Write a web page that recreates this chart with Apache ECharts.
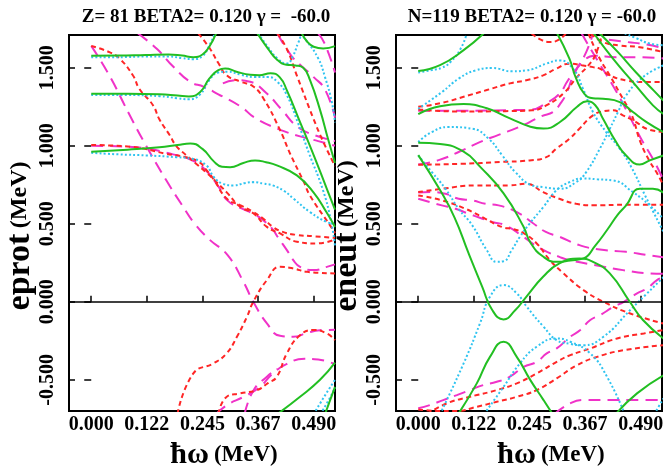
<!DOCTYPE html>
<html><head><meta charset="utf-8">
<script src="https://cdn.jsdelivr.net/npm/echarts@6/dist/echarts.min.js"></script>
<style>html,body{margin:0;padding:0;background:#fff}#c{width:665px;height:468px}</style>
</head><body><div id="c"></div>
<script>
// ---------- tick labels ----------
const xTickVals = [0, 0.1225, 0.245, 0.3675, 0.49];
const xTickLabels = ['0.000', '0.122', '0.245', '0.367', '0.490'];
const yTickVals = [-0.5, 0, 0.5, 1.0, 1.5];
const yTickLabels = ['-0.500', '0.000', '0.500', '1.000', '1.500'];
const titles = ['Z= 81 BETA2= 0.120 \u03b3 =  -60.0', 'N=119 BETA2= 0.120 \u03b3 = -60.0'];
const yNames = ['eprot', 'eneut'];

// ---------- proton routhians (left) ----------
const pG1 = [[0,1.577],[0.06,1.578],[0.12,1.582],[0.17,1.585],[0.2,1.578],[0.225,1.568],[0.245,1.585],[0.26,1.635],[0.275,1.72]];
const pG2 = [[0,1.333],[0.08,1.333],[0.15,1.33],[0.19,1.322],[0.215,1.316],[0.24,1.345],[0.26,1.43],[0.28,1.485],[0.295,1.495],[0.32,1.475],[0.35,1.455],[0.37,1.452],[0.395,1.465],[0.415,1.44],[0.431,1.355],[0.46,1.152],[0.49,0.94],[0.519,0.724],[0.537,0.59]];
const pG3 = [[0.366,1.72],[0.39,1.62],[0.41,1.55],[0.43,1.52],[0.45,1.515],[0.467,1.5],[0.482,1.42],[0.504,1.23],[0.522,1.04],[0.537,0.89]];
const pG4 = [[0,0.962],[0.08,0.975],[0.15,0.99],[0.19,1.005],[0.218,1.015],[0.245,0.98],[0.27,0.9],[0.288,0.866],[0.306,0.863],[0.335,0.89],[0.361,0.906],[0.385,0.895],[0.409,0.874],[0.453,0.81],[0.49,0.7],[0.518,0.575],[0.537,0.48]];
const pG5 = [[0.464,1.72],[0.475,1.67],[0.49,1.635],[0.511,1.624],[0.537,1.639]];
const pG6 = [[0.41,-0.72],[0.46,-0.609],[0.504,-0.5],[0.537,-0.39]];
const pG7 = [[0.515,-0.72],[0.537,-0.545]];

const pC1 = [[0,1.568],[0.06,1.568],[0.12,1.572],[0.17,1.572],[0.2,1.562],[0.225,1.555],[0.245,1.575],[0.258,1.63],[0.272,1.72]];
const pC2 = [[0,1.325],[0.08,1.325],[0.15,1.318],[0.19,1.305],[0.215,1.298],[0.24,1.33],[0.26,1.42],[0.28,1.47],[0.3,1.475],[0.33,1.455],[0.36,1.44],[0.39,1.44],[0.41,1.41],[0.43,1.33],[0.455,1.15],[0.48,0.95],[0.51,0.72],[0.528,0.52],[0.537,0.36]];
const pC3 = [[0.368,1.72],[0.39,1.63],[0.41,1.56],[0.431,1.528],[0.445,1.58],[0.456,1.66],[0.464,1.7],[0.475,1.67],[0.5,1.56],[0.515,1.44],[0.53,1.28],[0.537,1.15]];
const pC4 = [[0,0.955],[0.06,0.945],[0.122,0.938],[0.187,0.927],[0.222,0.917],[0.253,0.876],[0.27,0.8],[0.29,0.757],[0.313,0.746],[0.34,0.762],[0.357,0.767],[0.38,0.757],[0.4,0.746],[0.425,0.71],[0.446,0.66],[0.482,0.575],[0.519,0.511],[0.537,0.5]];
const pC5 = [[0.49,-0.72],[0.515,-0.6],[0.537,-0.5]];
const pC6 = [[0.505,-0.72],[0.525,-0.62],[0.537,-0.55]];

const pR1 = [[0,1.64],[0.04,1.6],[0.062,1.56],[0.092,1.45],[0.106,1.365],[0.136,1.26],[0.15,1.17],[0.173,1.067],[0.187,1.0],[0.209,0.94],[0.231,0.885],[0.253,0.83],[0.275,0.77],[0.299,0.7],[0.328,0.61],[0.357,0.567],[0.387,0.48],[0.416,0.438],[0.453,0.385],[0.497,0.374],[0.537,0.4]];
const pR2 = [[0,1.005],[0.092,0.992],[0.165,0.949],[0.208,0.927],[0.238,0.895],[0.255,0.84],[0.269,0.788],[0.299,0.66],[0.328,0.62],[0.357,0.575],[0.38,0.53],[0.4,0.48],[0.42,0.45],[0.45,0.43],[0.49,0.42],[0.537,0.41]];
const pR3 = [[0.19,-0.72],[0.225,-0.459],[0.269,-0.395],[0.298,-0.331],[0.321,-0.224],[0.343,-0.096],[0.357,0],[0.387,0.139],[0.416,0.224],[0.445,0.214],[0.475,0.192],[0.537,0.182]];
const pR4 = [[0.28,-0.72],[0.298,-0.61],[0.328,-0.587],[0.365,-0.566],[0.39,-0.52],[0.409,-0.48],[0.431,-0.331],[0.46,-0.214],[0.49,-0.181],[0.519,-0.203],[0.537,-0.246]];
const pR5 = [[0.236,1.72],[0.262,1.62],[0.28,1.53],[0.299,1.45],[0.33,1.41],[0.357,1.38],[0.38,1.3],[0.416,1.1],[0.438,0.95],[0.468,0.77],[0.482,0.68],[0.526,0.49],[0.537,0.44]];
const pR6 = [[0.41,1.72],[0.431,1.62],[0.453,1.45],[0.49,1.17],[0.512,1.02],[0.537,0.87]];

const pM1 = [[0,1.64],[0.04,1.45],[0.084,1.2],[0.121,1.0],[0.165,0.78],[0.2,0.62],[0.228,0.5],[0.26,0.4],[0.3,0.3],[0.335,0.13],[0.357,0],[0.387,-0.138],[0.416,-0.218],[0.445,-0.224],[0.475,-0.2],[0.504,-0.183],[0.537,-0.18]];
const pM2 = [[0.103,1.72],[0.145,1.62],[0.181,1.506],[0.218,1.41],[0.248,1.378],[0.28,1.33],[0.33,1.25],[0.36,1.18],[0.41,1.11],[0.46,1.06],[0.5,1.03],[0.537,1.0]];
const pM3 = [[0.29,1.4],[0.32,1.42],[0.35,1.41],[0.385,1.34],[0.42,1.23],[0.455,1.12],[0.49,1.07],[0.537,1.03]];
const pM4 = [[0,1.0],[0.1,0.99],[0.18,0.945],[0.22,0.91],[0.25,0.85],[0.28,0.74],[0.3,0.65],[0.33,0.6],[0.36,0.56],[0.38,0.52],[0.398,0.47],[0.413,0.406],[0.431,0.331],[0.445,0.267],[0.46,0.224],[0.49,0.203],[0.519,0.224],[0.537,0.24]];
const pM5 = [[0.275,-0.72],[0.3,-0.66],[0.335,-0.61],[0.37,-0.55],[0.4,-0.46],[0.43,-0.4],[0.47,-0.365],[0.5,-0.37],[0.537,-0.4]];
const pM6 = [[0.338,-0.72],[0.357,-0.57],[0.387,-0.48],[0.41,-0.43]];
const pM7 = [[0.5,1.72],[0.515,1.65],[0.537,1.47]];
const pM8 = [[0.41,1.72],[0.44,1.58],[0.46,1.52],[0.49,1.44],[0.515,1.36],[0.537,1.18]];

// ---------- neutron routhians (right) ----------
const nG1 = [[0,1.479],[0.048,1.517],[0.1,1.613],[0.144,1.72]];
const nG2 = [[0,1.203],[0.048,1.254],[0.1,1.267],[0.151,1.24],[0.202,1.176],[0.247,1.122],[0.276,1.11],[0.313,1.154],[0.35,1.25],[0.372,1.285],[0.39,1.26],[0.407,1.173],[0.436,1.024],[0.458,0.938],[0.488,0.88],[0.51,0.906],[0.54,0.938]];
const nG3 = [[0,1.019],[0.048,1.011],[0.1,0.962],[0.136,0.866],[0.188,0.695],[0.232,0.481],[0.247,0.38],[0.275,0.29],[0.306,0.256],[0.335,0.265],[0.364,0.278],[0.39,0.36],[0.416,0.46],[0.44,0.56],[0.458,0.618],[0.488,0.724],[0.517,0.724],[0.54,0.7]];
const nG4 = [[0,0.94],[0.048,0.716],[0.08,0.54],[0.111,0.31],[0.141,0.096],[0.163,-0.053],[0.188,-0.113],[0.214,-0.053],[0.238,0.032],[0.275,0.16],[0.311,0.246],[0.355,0.278],[0.385,0.256],[0.422,0.182],[0.466,0],[0.495,-0.117],[0.54,-0.235]];
const nG5 = [[0.088,-0.72],[0.129,-0.523],[0.158,-0.353],[0.188,-0.256],[0.217,-0.353],[0.247,-0.502],[0.276,-0.63],[0.296,-0.72]];
const nG6 = [[0.435,-0.72],[0.482,-0.587],[0.541,-0.47]];
const nG7 = [[0.306,1.72],[0.333,1.558],[0.348,1.43],[0.366,1.333],[0.385,1.305],[0.407,1.301],[0.444,1.28],[0.473,1.216],[0.503,1.152],[0.54,1.088]];
const nG8 = [[0.387,1.72],[0.429,1.558],[0.473,1.408],[0.517,1.259],[0.54,1.205]];
const nG9 = [[0.4,1.72],[0.44,1.6],[0.48,1.47],[0.52,1.35],[0.54,1.29]];

const nC1 = [[0,1.237],[0.052,1.344],[0.089,1.43],[0.126,1.483],[0.163,1.498],[0.207,1.477],[0.238,1.483],[0.282,1.526],[0.311,1.547],[0.341,1.494],[0.363,1.365],[0.385,1.216],[0.414,1.088],[0.444,0.981],[0.47,0.86],[0.5,0.68],[0.54,0.45]];
const nC2 = [[0,1.024],[0.03,1.088],[0.067,1.12],[0.119,1.109],[0.155,1.045],[0.185,0.938],[0.214,0.831],[0.251,0.746],[0.275,0.735],[0.311,0.724],[0.348,0.767],[0.37,0.831],[0.4,0.981],[0.422,1.109],[0.44,1.216],[0.458,1.323],[0.495,1.44],[0.54,1.515]];
const nC3 = [[0.455,1.72],[0.48,1.69],[0.51,1.655],[0.54,1.645]];
const nC4 = [[0,0.938],[0.03,0.831],[0.06,0.724],[0.089,0.596],[0.119,0.49],[0.151,0.331],[0.173,0.256],[0.188,0.26],[0.206,0.331],[0.224,0.417],[0.245,0.5],[0.276,0.609],[0.305,0.716],[0.335,0.769],[0.364,0.791],[0.394,0.785],[0.429,0.778],[0.473,0.703],[0.51,0.618],[0.54,0.532]];
const nC5 = [[0.048,-0.72],[0.1,-0.395],[0.136,-0.139],[0.158,0.032],[0.188,0.107],[0.217,0.054],[0.239,-0.032],[0.276,-0.16],[0.305,-0.246],[0.335,-0.27],[0.364,-0.278],[0.408,-0.224],[0.467,-0.053],[0.541,0.16]];
const nC6 = [[0.145,-0.72],[0.188,-0.545],[0.224,-0.395],[0.261,-0.288],[0.305,-0.235],[0.335,-0.256],[0.379,-0.331],[0.416,-0.481],[0.455,-0.72]];
const nC7 = [[0.52,-0.72],[0.54,-0.62]];
const nC8 = [[0,1.47],[0.03,1.485],[0.052,1.5],[0.071,1.537],[0.093,1.62],[0.107,1.72]];

const nR1 = [[0,1.25],[0.048,1.272],[0.1,1.314],[0.151,1.357],[0.202,1.4],[0.238,1.42],[0.275,1.451],[0.304,1.494],[0.333,1.526],[0.363,1.515],[0.385,1.504],[0.4,1.494],[0.422,1.451],[0.458,1.419],[0.495,1.408],[0.54,1.408]];
const nR2 = [[0,1.233],[0.089,1.22],[0.192,1.222],[0.251,1.227],[0.28,1.255],[0.32,1.336],[0.35,1.442],[0.372,1.506],[0.39,1.58],[0.405,1.72]];
const nR3 = [[0,0.878],[0.1,0.885],[0.18,0.896],[0.245,0.906],[0.282,0.927],[0.304,0.981],[0.333,1.045],[0.355,1.109],[0.385,1.195],[0.41,1.222],[0.429,1.227],[0.451,1.195],[0.48,1.152],[0.503,1.109],[0.54,1.088]];
const nR4 = [[0,0.703],[0.052,0.724],[0.126,0.746],[0.2,0.746],[0.238,0.756],[0.275,0.703],[0.311,0.66],[0.348,0.628],[0.385,0.618],[0.458,0.622],[0.54,0.622]];
const nR5 = [[0,0.682],[0.052,0.65],[0.104,0.596],[0.148,0.532],[0.185,0.479],[0.21,0.465],[0.232,0.44],[0.261,0.374],[0.29,0.267],[0.32,0.182],[0.364,0.075],[0.408,0],[0.467,-0.075],[0.54,-0.139]];
const nR6 = [[0.25,1.72],[0.27,1.68],[0.29,1.665],[0.31,1.68],[0.325,1.72]];
const nR7 = [[0.375,1.72],[0.4,1.558],[0.422,1.451],[0.451,1.3],[0.47,1.2],[0.49,1.02],[0.51,0.9],[0.525,0.83],[0.54,0.746]];
const nR8 = [[0.38,1.72],[0.407,1.665],[0.444,1.643],[0.488,1.632],[0.54,1.6]];
const nR9 = [[0.02,-0.72],[0.063,-0.651],[0.114,-0.609],[0.173,-0.566],[0.217,-0.523],[0.261,-0.459],[0.305,-0.385],[0.335,-0.342],[0.379,-0.299],[0.438,-0.235],[0.497,-0.203],[0.541,-0.181]];
const nR10 = [[0,-0.69],[0.05,-0.7],[0.085,-0.7],[0.129,-0.673],[0.173,-0.641],[0.217,-0.609],[0.261,-0.566],[0.305,-0.491],[0.35,-0.406],[0.394,-0.353],[0.453,-0.31],[0.541,-0.278]];

const nM1 = [[0,0.88],[0.045,0.908],[0.089,0.96],[0.133,1.02],[0.177,1.07],[0.222,1.12],[0.272,1.19],[0.297,1.216],[0.313,1.27],[0.326,1.333],[0.342,1.45],[0.36,1.53],[0.389,1.577],[0.436,1.568],[0.48,1.568],[0.54,1.56]];
const nM2 = [[0,1.225],[0.1,1.225],[0.2,1.228],[0.25,1.232],[0.28,1.27],[0.31,1.33],[0.33,1.42],[0.35,1.5],[0.37,1.6],[0.385,1.72]];
const nM3 = [[0.36,1.72],[0.39,1.57],[0.43,1.38],[0.46,1.22],[0.49,1.05],[0.52,0.9],[0.54,0.78]];
const nM4 = [[0.42,1.68],[0.46,1.665],[0.5,1.65],[0.54,1.625]];
const nM5 = [[0,0.7],[0.03,0.703],[0.06,0.692],[0.089,0.66],[0.119,0.65],[0.148,0.628],[0.177,0.618],[0.222,0.567],[0.25,0.51],[0.28,0.449],[0.311,0.417],[0.355,0.363],[0.4,0.335],[0.458,0.32],[0.503,0.3],[0.54,0.285]];
const nM6 = [[0,0.66],[0.052,0.618],[0.082,0.596],[0.111,0.564],[0.14,0.534],[0.163,0.511],[0.192,0.49],[0.23,0.42],[0.27,0.34],[0.311,0.288],[0.333,0.267],[0.4,0.23],[0.451,0.203],[0.51,0.182],[0.54,0.18]];
const nM7 = [[0,-0.683],[0.026,-0.662],[0.055,-0.63],[0.085,-0.598],[0.114,-0.566],[0.143,-0.534],[0.173,-0.513],[0.202,-0.48],[0.232,-0.417],[0.261,-0.385],[0.283,-0.331],[0.305,-0.299],[0.335,-0.224],[0.357,-0.181],[0.379,-0.117],[0.401,-0.085],[0.43,-0.032],[0.453,0],[0.482,0.054],[0.504,0.086],[0.526,0.139],[0.541,0.16]];
const nM8 = [[0.3,-0.72],[0.335,-0.651],[0.364,-0.63],[0.416,-0.63],[0.49,-0.63],[0.54,-0.63]];

// ---------- grouping ----------
const panels = [
  {green:[pG1,pG2,pG3,pG4,pG5,pG6,pG7], cyan:[pC1,pC2,pC3,pC4,pC5,pC6], red:[pR1,pR2,pR3,pR4,pR5,pR6], magenta:[pM1,pM2,pM3,pM4,pM5,pM6,pM7,pM8]},
  {green:[nG1,nG2,nG3,nG4,nG5,nG6,nG7,nG8,nG9], cyan:[nC1,nC2,nC3,nC4,nC5,nC6,nC7,nC8], red:[nR1,nR2,nR3,nR4,nR5,nR6,nR7,nR8,nR9,nR10], magenta:[nM1,nM2,nM3,nM4,nM5,nM6,nM7,nM8]}
];

const STYLE = {
  magenta:{color:'#f032c8', width:2, dash:[12,7], z:2},
  red:{color:'#ff2626', width:2, dash:[5,3.5], z:3},
  cyan:{color:'#30c4f0', width:2, dash:[2,2.2], z:4},
  green:{color:'#22bf22', width:2, dash:'solid', z:5}
};
const FONT = 'Liberation Serif';
const GRID_LEFT = [69, 396];

const chart = echarts.init(document.getElementById('c'), null, {renderer:'canvas'});
const grids = [], xAxes = [], yAxes = [], series = [], title = [];
function fmt(vals, labels){ return v => { for (let i=0;i<vals.length;i++) if (Math.abs(v-vals[i])<1e-6) return labels[i]; return ''; }; }

[0,1].forEach(gi => {
  grids.push({left:GRID_LEFT[gi], top:35, width:266, height:376, show:true, borderColor:'#000', borderWidth:2,
    backgroundColor:'transparent', containLabel:false, outerBoundsMode:'none'});
  title.push({text:titles[gi], left:[201,527][gi], top:3, textAlign:'center',
    textStyle:{fontFamily:FONT, fontWeight:'bold', fontSize:19, color:'#000'}});
  xAxes.push({type:'value', gridIndex:gi, min:-0.049, max:0.537,
    axisLine:{show:false}, splitLine:{show:false},
    axisTick:{show:true, inside:true, length:6, customValues:xTickVals, lineStyle:{color:'#000', width:1.5}},
    axisLabel:{show:true, customValues:xTickVals, formatter:fmt(xTickVals,xTickLabels), margin:4,
      fontFamily:FONT, fontWeight:'bold', fontSize:20, color:'#000'},
    name:'{a|\u0127\u03c9} {b|(MeV)}', nameLocation:'middle', nameGap:29,
    nameTextStyle:{color:'#000', fontFamily:FONT, fontWeight:'bold', fontSize:20, padding:[0,0,0,44],
      rich:{a:{fontFamily:FONT, fontWeight:'bold', fontSize:30, color:'#000'}, b:{fontFamily:FONT, fontWeight:'bold', fontSize:23, color:'#000'}}}
  });
  yAxes.push({type:'value', gridIndex:gi, min:-0.7, max:1.71,
    axisLine:{show:false}, splitLine:{show:false},
    axisTick:{show:true, inside:false, length:7, customValues:yTickVals, lineStyle:{color:'#000', width:1.5}},
    axisLabel:{show:true, customValues:yTickVals, formatter:fmt(yTickVals,yTickLabels), rotate:90, margin:11,
      align:'center', verticalAlign:'bottom',
      fontFamily:FONT, fontWeight:'bold', fontSize:20, color:'#000'},
    name:'{a|'+yNames[gi]+'} {b|(MeV)}', nameLocation:'middle', nameRotate:90, nameGap:26,
    nameTextStyle:{color:'#000', fontFamily:FONT, fontWeight:'bold', fontSize:22, padding:[0,26,0,0],
      rich:{a:{fontFamily:FONT, fontWeight:'bold', fontSize:34, color:'#000'}, b:{fontFamily:FONT, fontWeight:'bold', fontSize:24, color:'#000'}}}
  });
  yAxes.push({type:'value', gridIndex:gi, min:-0.7, max:1.71, position:'left', offset:0,
    axisLine:{show:false}, splitLine:{show:false}, axisLabel:{show:false},
    axisTick:{show:true, inside:true, length:6, customValues:yTickVals, lineStyle:{color:'#000', width:1.5}}
  });
  let first = true;
  ['magenta','red','cyan','green'].forEach(kind => {
    const st = STYLE[kind];
    panels[gi][kind].forEach(d => {
      const s = {type:'line', xAxisIndex:gi, yAxisIndex:gi*2, data:d, symbol:'none', showSymbol:false,
        smooth:0.5, clip:true, silent:true, animation:false, z:st.z,
        lineStyle:{color:st.color, width:st.width, type:st.dash, cap:'butt'}};
      if (first) {
        s.markLine = {silent:true, symbol:'none', label:{show:false}, animation:false,
          lineStyle:{color:'#000', width:1.5, type:'solid'}, data:[{yAxis:0}]};
        first = false;
      }
      series.push(s);
    });
  });
});

chart.setOption({animation:false, backgroundColor:'#fff', title, grid:grids, xAxis:xAxes, yAxis:yAxes, series});
</script></body></html>
